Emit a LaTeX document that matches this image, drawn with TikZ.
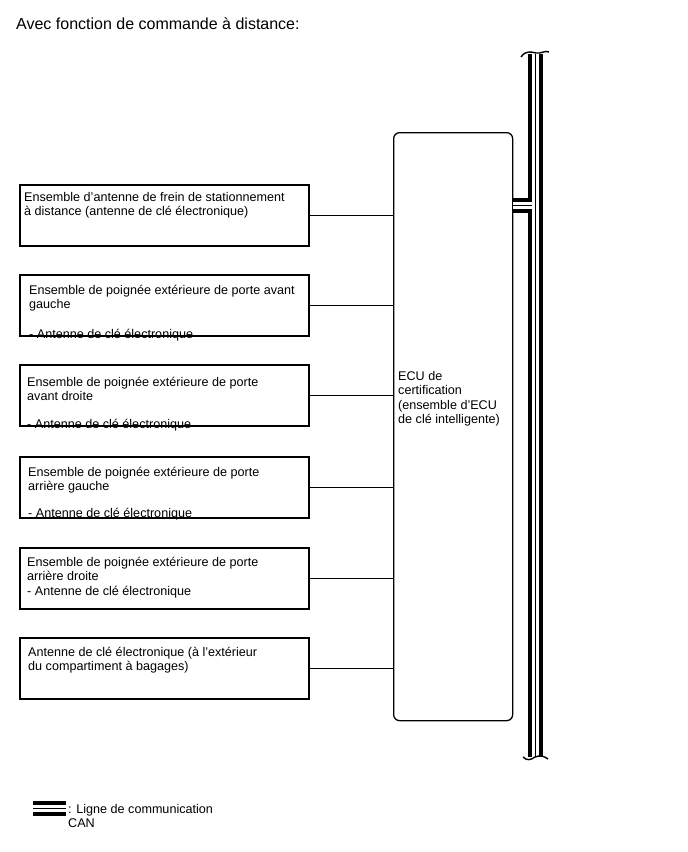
\documentclass[tikz,border=0pt]{standalone}
\usepackage{fontspec}
\setmainfont{Liberation Sans}

\begin{document}
\begin{tikzpicture}[
x=1pt, y=-1pt,
every node/.style={
inner sep=0pt,
align=left,
font=\fontsize{12.6}{14.5}\selectfont
},
unit/.style={
draw,
line width=1.7pt,
anchor=north west,
minimum width=289pt,
minimum height=61pt
},
txt/.style={anchor=north west},
ecubox/.style={
draw,
rounded corners=6pt,
line width=1.3pt,
anchor=north west,
minimum width=119pt,
minimum height=588pt
},
canbus/.style={
line width=15pt,
postaction={draw, white, line width=7pt},
postaction={draw, black, line width=1pt}
},
link/.style={line width=0.8pt}
]

\useasboundingbox (0,0) rectangle (688,852);

\node[txt, font=\fontsize{16}{18}\selectfont] (title) at (16,18)
{Avec fonction de commande à distance:};

\node[ecubox] (ecu) at (393,132) {};
\node[txt] (ecut) at (398,371)
{ECU de\\certification\\(ensemble d'ECU\\de clé intelligente)};

\node[unit] (park) at (19,184) {};
\node[txt] (parkt) at (24,192)
{Ensemble d'antenne de frein de stationnement\\à distance (antenne de clé électronique)};

\node[unit] (avg) at (19,274) {};
\node[txt] (avgt) at (29,285)
{Ensemble de poignée extérieure de porte avant\\gauche\\[15.5pt]- Antenne de clé électronique};

\node[unit] (avd) at (19,364) {};
\node[txt] (avdt) at (27,377)
{Ensemble de poignée extérieure de porte\\avant droite\\[13.5pt]- Antenne de clé électronique};

\node[unit] (arg) at (19,456) {};
\node[txt] (argt) at (28,467)
{Ensemble de poignée extérieure de porte\\arrière gauche\\[12.5pt]- Antenne de clé électronique};

\node[unit] (ard) at (19,547) {};
\node[txt] (ardt) at (27,557)
{Ensemble de poignée extérieure de porte\\arrière droite\\- Antenne de clé électronique};

\node[unit] (bag) at (19,637) {};
\node[txt] (bagt) at (28,647)
{Antenne de clé électronique (à l'extérieur\\du compartiment à bagages)};

\draw[link] (park.east) -- (park.east -| ecu.west);
\draw[link] (avg.east) -- (avg.east -| ecu.west);
\draw[link] (avd.east) -- (avd.east -| ecu.west);
\draw[link] (arg.east) -- (arg.east -| ecu.west);
\draw[link] (ard.east) -- (ard.east -| ecu.west);
\draw[link] (bag.east) -- (bag.east -| ecu.west);

\coordinate (bustop) at (535.5,54);
\coordinate (busbot) at (535.5,757);
\coordinate (busjoin) at (532,205);
\draw[canbus] (bustop) -- (busbot);
\draw[canbus] (busjoin -| ecu.east) -- (busjoin);
\draw[line width=1.4pt] (521,57) .. controls (526,50) and (531,52) .. (536,53)
.. controls (541,54) and (545,50) .. (549,52);
\draw[line width=1.4pt] (523,757) .. controls (527,761) and (531,760) .. (535,757)
.. controls (540,755) and (544,756) .. (548,759);

\coordinate (legl) at (33,808);
\coordinate (legr) at (66,808);
\draw[canbus] (legl) -- (legr);
\node[txt] (legt) at (68,804)
{: Ligne de communication\\CAN};

\end{tikzpicture}
\end{document}
